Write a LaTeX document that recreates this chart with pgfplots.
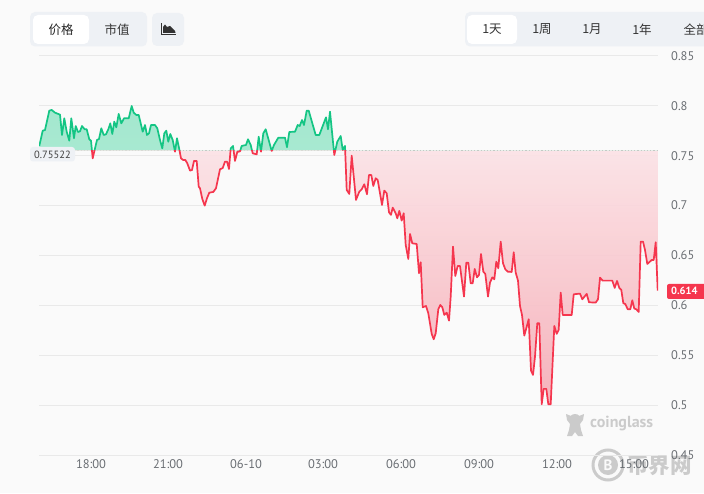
\documentclass[border=0pt]{standalone}
\usepackage{pgfplots}
\usepackage{pgfplotstable}
\usepackage{fontspec}
\pgfplotsset{compat=1.18}
\setmainfont{PT Sans}
\newfontfamily\cjk{Noto Sans CJK SC}
\definecolor{bgc}{HTML}{FAFAFA}
\definecolor{tab}{HTML}{EEF1F5}
\definecolor{gridc}{HTML}{E9E9E9}
\definecolor{upc}{HTML}{14C584}
\definecolor{dnc}{HTML}{F5364E}
\definecolor{fillc}{HTML}{E8384F}
\definecolor{tickc}{HTML}{6A6E73}
\definecolor{wm}{HTML}{CBCBCB}
\pgfplotstableread{
x y
39.3 .7598
42.7 .7751
45 .7758
49.3 .7952
51.7 .7959
55 .7932
60 .7912
62 .7708
64.3 .7875
66.7 .7741
69.3 .7651
71.3 .7875
74 .7675
75.7 .7798
78 .7738
80 .7745
82 .7798
84.7 .7765
86.7 .7765
89.3 .7665
91 .7651
92.7 .7474
95 .7574
97 .7658
99 .7668
101.3 .7775
103.7 .7708
106 .7715
108.3 .7765
110.3 .7825
112.3 .7718
114.3 .7842
116.3 .7785
118.7 .7919
121.3 .7825
124 .7875
128.7 .7875
131.7 .7999
133.7 .7932
136.3 .7909
138.7 .7909
140.3 .7842
142.7 .7741
145 .7808
147 .7708
149 .7725
151 .7808
155 .7808
157.3 .7775
160 .7658
162.3 .7574
164.3 .7725
166.3 .7751
168.3 .7641
170.3 .7718
172.7 .7658
175 .7541
177 .7675
179.3 .7564
181 .7474
183 .7458
185.3 .7458
187.3 .7424
190 .7351
192 .7357
194 .7448
196.7 .7448
198.7 .7190
200 .7174
202.3 .7067
204.7 .7000
207 .7074
209.3 .7130
213.3 .7137
216 .7174
220 .7364
222.7 .7377
225 .7441
227 .7441
229 .7367
230.7 .7574
233 .7598
235 .7448
237.3 .7538
240 .7544
241.7 .7598
246 .7608
248 .7665
250.7 .7608
252.7 .7524
256.7 .7514
258.7 .7691
261 .7541
263.3 .7725
265.7 .7765
271.7 .7548
274 .7608
278.3 .7681
285 .7681
287 .7585
289.3 .7738
295 .7741
297.7 .7808
299.7 .7798
302 .7858
304 .7808
306.7 .7952
308.7 .7952
315.7 .7708
319.3 .7708
326 .7885
328 .7765
330 .7942
334.3 .7508
337.3 .7641
340.7 .7698
342.7 .7558
345 .7598
346.7 .7157
349.3 .7117
351.7 .7501
356 .7057
359.3 .7140
361.7 .7164
364.3 .7214
367 .7114
369 .7307
371.3 .7307
373.3 .7197
375.7 .7274
377.7 .7257
382 .7007
384.3 .7150
386.7 .7124
389 .6933
391 .6907
392.7 .6980
395.7 .6923
397.3 .6873
399.3 .6947
401.7 .6850
403.7 .6923
405.7 .6606
408.3 .6465
410 .6716
412.3 .6622
416.7 .6616
419 .6322
420.7 .6432
422.7 .5981
426 .5994
428.3 .5921
431.7 .5714
433.7 .5660
435.7 .5720
438.3 .5961
440.3 .6004
442.3 .5981
444.3 .5904
446.7 .5927
449 .5847
450.7 .6088
453 .6589
455.3 .6295
457.7 .6395
460 .6395
464 .6088
466.3 .6428
468.3 .6428
470.7 .6221
472.7 .6221
474.7 .6365
477 .6281
479 .6305
481 .6515
483.3 .6338
485.3 .6315
488 .6088
490 .6228
492.3 .6281
494.3 .6261
496.3 .6438
498.3 .6372
500.7 .6639
503 .6422
505.3 .6362
507.7 .6338
511.7 .6335
513.7 .6532
515.7 .6328
518 .6248
520 .5994
522 .5904
524.3 .5697
526.3 .5771
528.7 .5861
531 .5346
533 .5303
535 .5487
537.3 .5821
539.3 .5821
541.7 .5009
543.7 .5163
546.3 .5163
548.3 .5009
550.7 .5009
554.3 .5794
556.7 .5714
558.7 .5754
560.7 .6128
562.7 .5904
571.7 .5904
573.7 .6111
580 .6118
582.3 .6061
586.7 .6115
589 .6031
595.7 .6028
598 .6061
600 .6278
602.7 .6248
612.3 .6248
614.7 .6175
617 .6245
619.3 .6175
621.3 .6155
623.3 .6021
625.3 .6014
627.7 .5961
630.3 .5961
632.3 .6051
634.3 .5968
636.3 .5961
638.7 .5934
640.7 .6639
643 .6639
645 .6555
647.3 .6415
651.7 .6455
653.7 .6455
655.7 .6632
657.7 .6148
}\pricedata
\pgfplotsset{
  plain/.style={scale only axis, axis lines=none, xmin=39, xmax=658, width=619pt},
  upper/.style={plain, at={(39pt,342.44pt)}, anchor=south west, height=94.56pt, ymin=0.7552, ymax=0.85},
  lower/.style={plain, at={(39pt,38pt)}, anchor=south west, height=304.44pt, ymin=0.45, ymax=0.7552},
}
\begin{document}
\begin{tikzpicture}[x=1pt,y=1pt]
\path[use as bounding box] (0,0) rectangle (704,493);
\fill[bgc] (0,0) rectangle (704,493);
\begin{scope}[shift={(0,493)},y=-1pt]
  % left tabs
  \fill[tab,rounded corners=5pt] (30,12) rectangle (147,46.5);
  \fill[white,rounded corners=5pt] (33,15) rectangle (89,44);
  \fill[tab,rounded corners=5pt] (152,13) rectangle (184,46);
  \node[font=\cjk\fontsize{12.5}{14}\selectfont,text=black!85] at (61,29.5) {价格};
  \node[font=\cjk\fontsize{12.5}{14}\selectfont,text=black!80] at (117,29.5) {市值};
  \fill[black!80] (163,33) -- (163,27) -- (165,24.5) -- (167,27) -- (170,26) -- (172,28) -- (175,31) -- (175.5,33) -- cycle;
  \draw[black!80,line width=1pt] (161.5,23.5) -- (161.5,34.5) -- (176,34.5);
  % right tabs
  \fill[tab,rounded corners=5pt] (465,12) rectangle (720,46.5);
  \fill[white,rounded corners=5pt] (467,15) rectangle (517,44);
  \foreach \x/\t in {492/1天,542/1周,592/1月,642/1年,696/全部}
    \node[font=\cjk\fontsize{12.5}{14}\selectfont,text=black!80] at (\x,29.5) {\t};
  % coinglass mark
  \fill[wm] (575,420) circle (6);
  \fill[wm] (566,414) -- (571,416) -- (579,416) -- (584,414) -- (583,420) -- (580,424) -- (581,430) -- (583,436) -- (578,436) -- (575,432) -- (572,436) -- (567,436) -- (569,430) -- (570,424) -- (567,420) -- cycle;
  \node[font=\bfseries\fontsize{16}{18}\selectfont,text=wm,anchor=west,inner sep=0pt] at (590,424) {coinglass};
  % site mark
  \draw[wm,line width=3pt] (608,465) circle (15);
  \fill[wm] (608,465) circle (10);
  \node[font=\bfseries\fontsize{15}{16}\selectfont,text=bgc] at (608,465) {B};
  \node[font=\cjk\bfseries\fontsize{21.5}{22}\selectfont,text=wm,anchor=west,inner sep=0pt] at (627,466) {币界网};
\end{scope}
% grid, tick labels, baseline
\begin{axis}[plain, at={(39pt,38pt)}, anchor=south west, height=399pt, ymin=0.45, ymax=0.85,
  axis lines=none, hide axis=false,
  axis x line*=bottom, axis y line*=right, axis line style={draw=none},
  tick style={draw=none}, ymajorgrids, grid style={gridc,line width=1pt},
  xtick={91,168,246,323,401,479,557,634},
  xticklabels={18:00,21:00,06-10,03:00,06:00,09:00,12:00,15:00},
  ytick={0.45,0.5,0.55,0.6,0.65,0.7,0.75,0.8,0.85},
  yticklabels={0.45,0.5,0.55,0.6,0.65,0.7,0.75,0.8,0.85},
  xticklabel style={font=\fontsize{12.5}{14}\selectfont,text=tickc,yshift=-9pt,inner sep=0pt,anchor=center},
  yticklabel style={font=\fontsize{12.5}{14}\selectfont,text=tickc,anchor=west,xshift=13pt,inner sep=0pt},
  clip=false]
\addplot[draw=black!32,line width=1.2pt,dash pattern=on 1.2pt off 2pt] coordinates {(39,0.7552) (658,0.7552)};
\end{axis}
% fills and line above the opening price
\begin{axis}[upper]
\addplot[draw=none,shade,top color=upc!42,bottom color=upc!28,fill opacity=0.92,forget plot] table[x=x,y=y] {\pricedata} -- (axis cs:658,0.7552) -- (axis cs:39,0.7552) -- cycle;
\addplot[upc,line width=1.7pt,line join=round] table[x=x,y=y] {\pricedata};
\end{axis}
% fills and line below the opening price
\begin{axis}[lower]
\addplot[draw=none,shade,top color=fillc!10,bottom color=fillc!42,fill opacity=0.9,forget plot] table[x=x,y=y] {\pricedata} -- (axis cs:658,0.7552) -- (axis cs:39,0.7552) -- cycle;
\addplot[dnc,line width=1.7pt,line join=round] table[x=x,y=y] {\pricedata};
\end{axis}
\begin{scope}[shift={(0,493)},y=-1pt]
  \fill[tab,rounded corners=3pt] (30,147) rectangle (75,161.5);
  \node[font=\fontsize{10.5}{12}\selectfont,text=black!75] at (52.5,154.5) {0.75522};
  \fill[dnc,rounded corners=2pt] (667,284) rectangle (712,299);
  \node[font=\bfseries\fontsize{10.5}{12}\selectfont,text=white,anchor=west,inner sep=0pt] at (671,291) {0.614};
\end{scope}
\end{tikzpicture}
\end{document}
